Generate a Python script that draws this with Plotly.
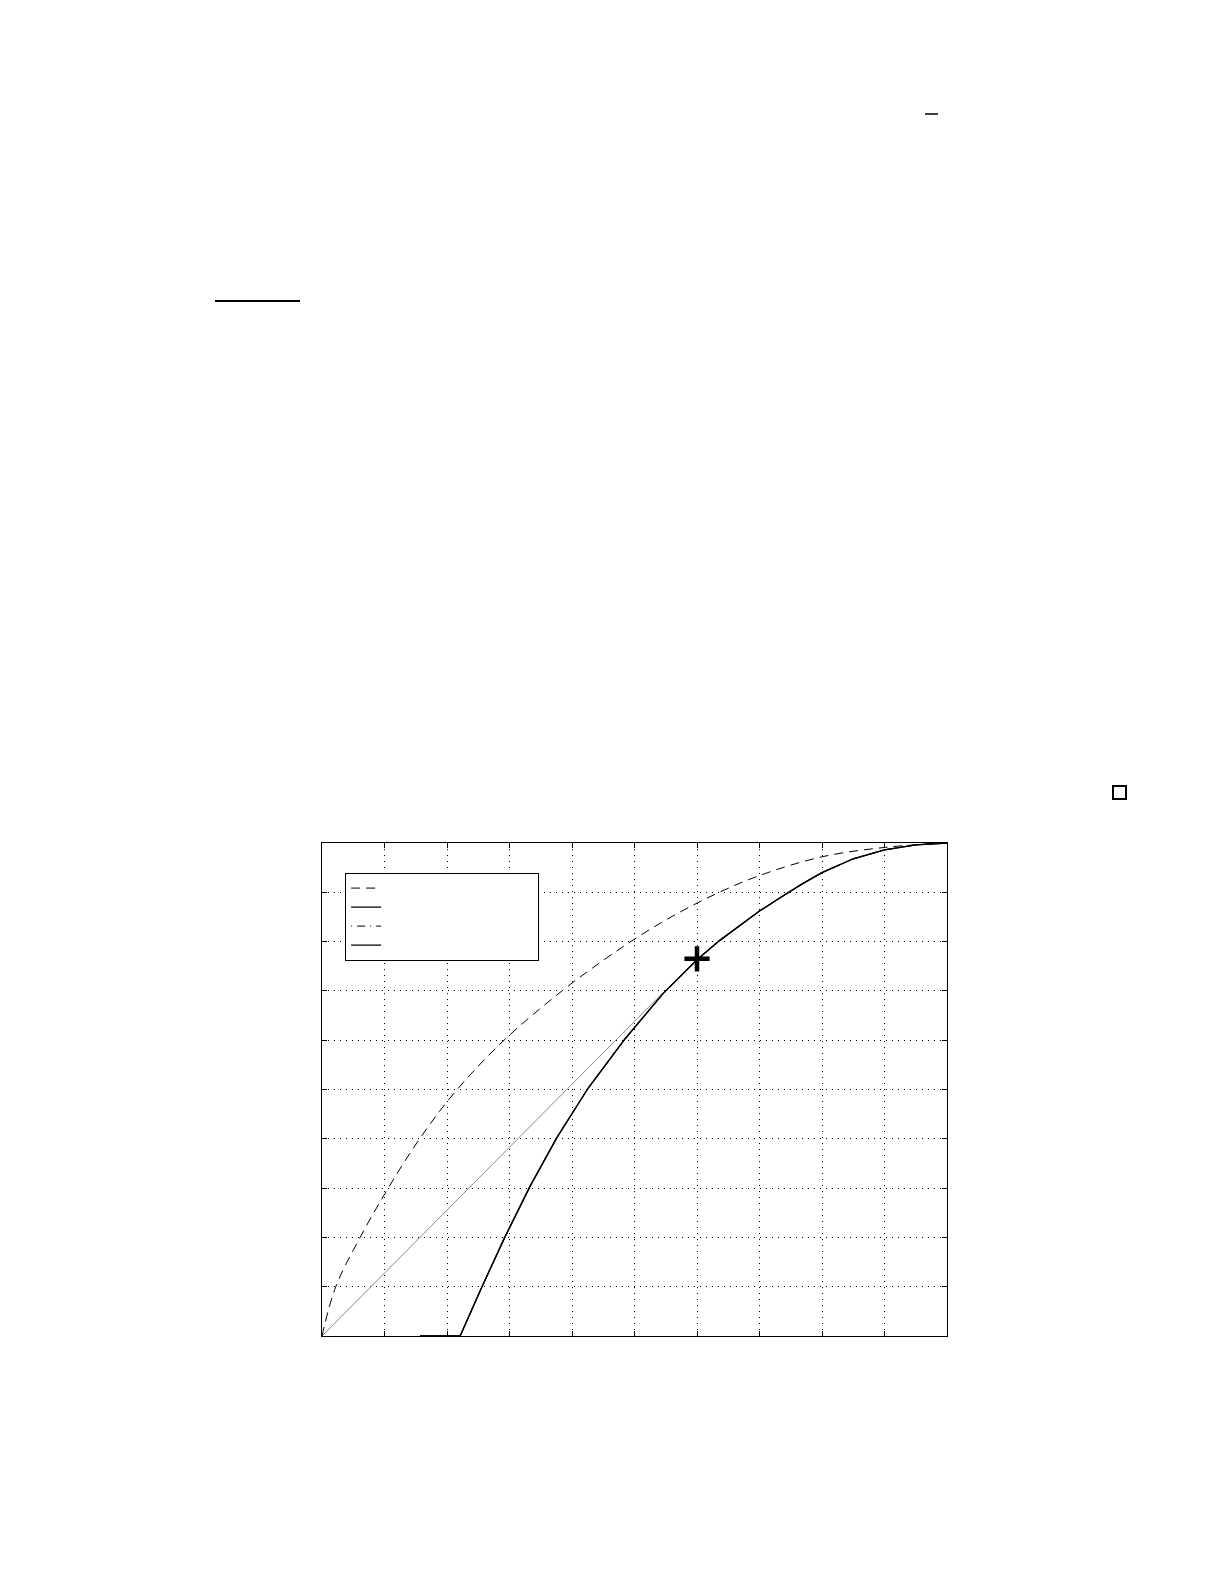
import plotly.graph_objects as go

# curve values (x and y both run 0..1)
dashed_x = [0.0, 0.022, 0.061, 0.106, 0.153, 0.209, 0.288, 0.384, 0.450, 0.500,
            0.560, 0.629, 0.700, 0.800, 0.900, 1.0]
dashed_y = [0.0, 0.100, 0.200, 0.300, 0.394, 0.489, 0.596, 0.700, 0.762, 0.805,
            0.851, 0.896, 0.934, 0.972, 0.991, 1.0]

solid_x = [0.157, 0.221, 0.256, 0.292, 0.333, 0.376, 0.426, 0.485, 0.546, 0.600,
           0.636, 0.700, 0.733, 0.767, 0.800, 0.850, 0.900, 0.950, 1.000]
solid_y = [0.0, 0.0, 0.100, 0.199, 0.304, 0.403, 0.503, 0.603, 0.695, 0.763,
           0.802, 0.862, 0.889, 0.916, 0.940, 0.968, 0.986, 0.996, 1.000]

tangent_x = [0.0, 0.546]
tangent_y = [0.0, 0.697]

point_x = [0.6]
point_y = [0.765]

grid_ticks = [i / 10 for i in range(11)]

# page layout (the plot sits inside a full page), body margin is 8px
W, H = 1225, 1585
BODY = 8
L, R, T, B = 322, 947, 843, 1336


def px(x):
    return (x - L) / (R - L)


def py(y):
    return (B - y) / (B - T)


blank = "\u00a0" * 48

fig = go.Figure()

fig.add_trace(go.Scatter(x=tangent_x, y=tangent_y, mode="lines",
                         line=dict(color="#8a8a8a", width=1),
                         showlegend=False, hoverinfo="skip"))
fig.add_trace(go.Scatter(x=dashed_x, y=dashed_y, mode="lines", name=blank,
                         legendrank=1,
                         line=dict(color="black", width=1, dash="9px,6px",
                                   shape="spline", smoothing=1.0)))
# dash-dot curve lies underneath the solid one
fig.add_trace(go.Scatter(x=solid_x, y=solid_y, mode="lines", name=blank,
                         legendrank=3,
                         line=dict(color="black", width=1, dash="1px,5px,8px,5px")))
fig.add_trace(go.Scatter(x=solid_x, y=solid_y, mode="lines", name=blank,
                         legendrank=2,
                         line=dict(color="black", width=1.3)))
fig.add_trace(go.Scatter(x=solid_x, y=solid_y, mode="lines", name=blank,
                         legendrank=4,
                         line=dict(color="black", width=1.3)))
fig.add_trace(go.Scatter(x=point_x, y=point_y, mode="markers", showlegend=False,
                         marker=dict(symbol="cross-thin", size=18, color="black",
                                     line=dict(color="black", width=4.5))))

axis = dict(range=[0, 1], tickvals=grid_ticks, showticklabels=False,
            ticks="inside", ticklen=5, tickcolor="black", mirror="ticks",
            showline=True, linecolor="black", linewidth=1,
            showgrid=True, gridcolor="black", gridwidth=1.3, griddash="1px,5px",
            zeroline=False, fixedrange=True)

# stray page marks around the figure
shapes = [
    dict(type="line", xref="paper", yref="paper",
         x0=px(925), x1=px(938), y0=py(114), y1=py(114),
         line=dict(color="black", width=1.5)),
    dict(type="line", xref="paper", yref="paper",
         x0=px(215), x1=px(300), y0=py(301), y1=py(301),
         line=dict(color="black", width=2)),
    dict(type="rect", xref="paper", yref="paper",
         x0=px(1113), x1=px(1126), y0=py(786), y1=py(799),
         line=dict(color="black", width=2)),
]

fig.update_layout(
    width=W - 2 * BODY,
    height=H - 2 * BODY,
    margin=dict(l=L - BODY, r=(W - 2 * BODY) - (R - BODY), t=T - BODY,
                b=(H - 2 * BODY) - (B - BODY), pad=0),
    paper_bgcolor="white",
    plot_bgcolor="white",
    font=dict(family="Liberation Sans, Arial", size=11, color="black"),
    xaxis=axis,
    yaxis=axis,
    shapes=shapes,
    showlegend=True,
    legend=dict(x=0.037, y=0.94, xanchor="left", yanchor="top",
                bgcolor="white", bordercolor="black", borderwidth=1,
                itemwidth=30, tracegroupgap=0, traceorder="normal"),
    hovermode=False,
)

fig.write_html("out.html", config={"displayModeBar": False})
